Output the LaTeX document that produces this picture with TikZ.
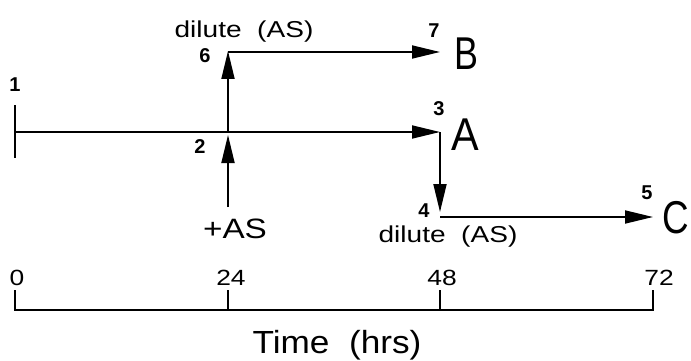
\documentclass[tikz,border=0pt]{standalone}
\usepackage{fontspec}
\setmainfont{Liberation Sans}
\usetikzlibrary{arrows.meta}

\begin{document}
\begin{tikzpicture}[x=1pt,y=-1pt,
  flow/.style={line width=1.8pt,-{Triangle[length=28pt,width=13pt]}},
  plain/.style={line width=1.8pt},
  ptnum/.style={font=\fontsize{20}{20}\selectfont\bfseries,inner sep=0pt},
  mid/.style={font=\fontsize{23}{23}\selectfont,inner sep=0pt,anchor=base,xscale=1.22},
  big/.style={font=\fontsize{46}{46}\selectfont,inner sep=0pt,anchor=base},
  ticknum/.style={font=\fontsize{22}{22}\selectfont,inner sep=0pt,anchor=base,xscale=1.2}]
\useasboundingbox (0,0) rectangle (691,361);

% key points of the schedule
\coordinate (p1) at (15,132);
\coordinate (p2) at (228,132);
\coordinate (p3) at (440,132);
\coordinate (p4) at (440,217);
\coordinate (p5) at (653,217);
\coordinate (p6) at (228,52);
\coordinate (p7) at (440,52);
\coordinate (add) at (228,207);
\coordinate (t1top) at (15,105);
\coordinate (t1bot) at (15,158);

% start marker
\draw[plain] (t1top) -- (t1bot);

% main culture line and branches
\draw[flow] (p1) -- (p3);
\draw[flow,shorten >=3pt] (add) -- (p2);
\draw[flow,shorten >=-1pt] (p2) -- (p6);
\draw[flow] (p6) -- (p7);
\draw[flow,shorten >=5pt] (p3) -- (p4);
\draw[flow] (p4) -- (p5);

% point numbers
\node[ptnum] (n1) at (15,85) {1};
\node[ptnum] (n2) at (200,147) {2};
\node[ptnum] (n3) at (439,109) {3};
\node[ptnum] (n4) at (424,211) {4};
\node[ptnum] (n5) at (647,193) {5};
\node[ptnum] (n6) at (205,56) {6};
\node[ptnum] (n7) at (434,31) {7};

% outcome labels
\node[big,xscale=0.78] (lB) at (466,70) {B};
\node[big,xscale=0.9] (lA) at (465,150) {A};
\node[big,xscale=0.8] (lC) at (676,233) {C};

% treatment labels
\node[mid] (dil1) at (244,38) {dilute~~(AS)};
\node[mid] (dil2) at (448,242) {dilute~~(AS)};
\node[mid,font=\fontsize{28}{28}\selectfont,xscale=1.19/1.22] (addAS) at (235,238) {+AS};

% time axis
\coordinate (a0) at (15,310);
\coordinate (a24) at (228,310);
\coordinate (a48) at (440,310);
\coordinate (a72) at (653,310);
\draw[plain,line cap=butt] (15,290) -- (a0) -- (a72) -- (653,290);
\draw[plain] (a24) -- ++(0,-20);
\draw[plain] (a48) -- ++(0,-20);

\node[ticknum] (h0) at (17,285) {0};
\node[ticknum] (h24) at (231,285) {24};
\node[ticknum] (h48) at (442,285) {48};
\node[ticknum] (h72) at (659,285) {72};

\node[font=\fontsize{32}{32}\selectfont,inner sep=0pt,anchor=base,xscale=1.1] (tlabel) at (337,353) {Time~~(hrs)};
\end{tikzpicture}
\end{document}
